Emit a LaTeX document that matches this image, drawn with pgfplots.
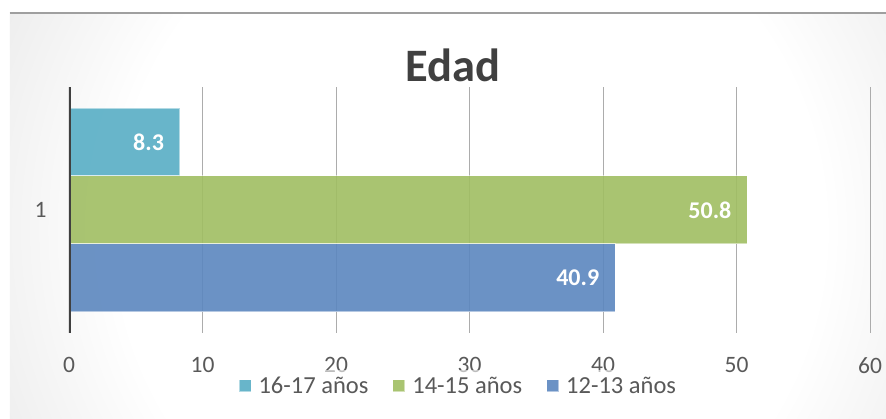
\documentclass[border=0pt]{standalone}
\usepackage{fontspec}
\setmainfont{Carlito}
\usepackage{pgfplots}
\pgfplotsset{compat=1.18}
\definecolor{cyanbar}{RGB}{88,174,197}
\definecolor{greenbar}{RGB}{160,190,98}
\definecolor{bluebar}{RGB}{92,135,191}
\definecolor{labelgray}{RGB}{89,89,89}
\definecolor{titlegray}{RGB}{64,64,64}
\definecolor{axisdark}{RGB}{64,64,64}
\definecolor{bgedge}{RGB}{198,198,198}
\definecolor{bgcorner}{RGB}{186,186,186}
\pgfdeclareradialshading{bgshade}{\pgfpoint{0bp}{0bp}}{color(0bp)=(white); color(17bp)=(white); color(42bp)=(bgedge); color(50bp)=(bgcorner); color(72bp)=(bgcorner)}
\begin{document}
\begin{tikzpicture}[x=1pt,y=1pt]
\fill[white] (-69,-86) rectangle (817,333);
\begin{scope}
\clip (-59,-86) rectangle (817,320);
\shade[shading=bgshade] (-119,-417) rectangle (921,623);
\end{scope}
\draw[color=gray!75, line width=1.5pt] (-59,320) -- (817,320);
\node[anchor=base, font=\bfseries\fontsize{46.5}{50}\selectfont, text=titlegray] at (384,251) {Edad};
\begin{axis}[
  at={(0,0)}, anchor=south west, scale only axis,
  width=801pt, height=246pt,
  xbar, xmin=0, xmax=60, ymin=0.5, ymax=1.5,
  bar width=0.2764,
  xtick={0,10,...,60}, ytick={1},
  axis line style={draw=none},
  major tick length=0pt,
  xmajorgrids, major grid style={color=gray!65, line width=0.8pt},
  tick label style={font=\fontsize{23.5}{27}\selectfont, text=labelgray},
  /pgf/number format/assume math mode=true,
  xticklabel style={yshift=-21pt},
  yticklabel style={xshift=-19pt},
  legend columns=3,
  legend style={at={(axis description cs:0.486,-0.215)}, anchor=center,
    draw=none, fill=white, fill opacity=0.6, text opacity=1,
    inner xsep=18pt, inner ysep=5pt,
    font=\fontsize{24.5}{28}\selectfont, text=labelgray,
    /tikz/every even column/.append style={column sep=22pt}},
  legend image code/.code={\fill[#1] (0pt,-6pt) rectangle (12pt,6pt); \path (17pt,0pt);},
  nodes near coords,
  nodes near coords style={anchor=east, xshift=-12pt, text opacity=1,
    font=\bfseries\fontsize{24}{28}\selectfont, text=white},
  every axis plot/.append style={draw=white, draw opacity=0.5, line width=1pt, fill opacity=0.9},
]
\addplot[fill=cyanbar, bar shift=0.2764] coordinates {(8.3,1)};
\addplot[fill=greenbar, bar shift=0] coordinates {(50.8,1)};
\addplot[fill=bluebar, bar shift=-0.2764] coordinates {(40.9,1)};
\legend{16-17 años, 14-15 años, 12-13 años}
\draw[line width=4pt, color=axisdark] (axis cs:0,0.5) -- (axis cs:0,1.5);
\end{axis}
\pgfresetboundingbox
\useasboundingbox (-69,-86) rectangle (817,333);
\end{tikzpicture}
\end{document}
